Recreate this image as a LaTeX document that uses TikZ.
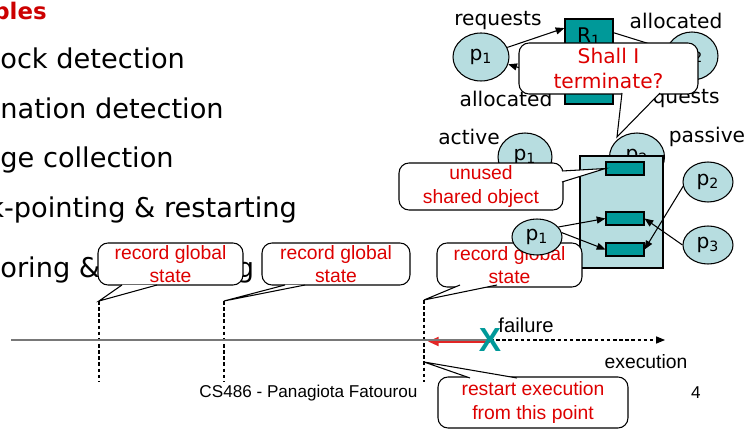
\documentclass[tikz,border=0pt]{standalone}
\usepackage{fontspec}
\setmainfont{DejaVu Sans}
\newfontfamily\arialfont{Liberation Sans}
\usetikzlibrary{shapes.geometric,arrows.meta}
\definecolor{slidered}{RGB}{204,0,0}
\definecolor{calloutred}{RGB}{221,0,0}
\definecolor{resteal}{RGB}{0,153,153}
\definecolor{heapblue}{RGB}{183,221,224}
\definecolor{timegray}{RGB}{120,120,120}

\begin{document}
\begin{tikzpicture}[x=0.02cm,y=-0.02cm]
	\tikzset{
		arc lines/.style={line width=0.6pt, black, -{Triangle[length=5pt,width=4pt]}},
		proc/.style={ellipse, draw, line width=0.6pt, fill=heapblue, inner sep=0pt,
				font=\fontsize{11.5}{13}\selectfont},
		res/.style={draw, line width=0.6pt, fill=resteal, inner sep=0pt},
		bubble/.style={draw, line width=0.6pt, fill=white, rounded corners=0.2cm,
				align=center, text=calloutred, inner sep=0pt},
		tail/.style={draw, line width=0.6pt, fill=white, line join=miter},
		item/.style={anchor=base west, inner sep=0pt, font=\fontsize{15.5}{18}\selectfont},
		arial/.style={font=\arialfont\fontsize{11}{13.4}\selectfont},
		lbl/.style={font=\fontsize{11.5}{13}\selectfont},
		guide/.style={line width=0.6pt, dash pattern=on 2pt off 1.5pt},
	}
	\useasboundingbox (0,0) rectangle (745,429);
	\clip (0,0) rectangle (745,429);

	% slide text, cut at the left edge
	\node[item, font=\bfseries\fontsize{13}{15}\selectfont, text=slidered] (title) at (-7,20) {ples};
	\node[item] (dead) at (0,69) {ock detection};
	\node[item] (term) at (0,119) {nation detection};
	\node[item] (garb) at (0,168) {ge collection};
	\node[item] (chkp) at (-12,218) {k-pointing \& restarting};
	\node[item] (moni) at (0,278) {oring \& debugging};

	% deadlock
	\node[res, minimum width=0.96cm, minimum height=0.72cm, font=\fontsize{11.5}{13}\selectfont] (R1) at (589,37) {R\textsubscript{1}};
	\node[res, minimum width=0.96cm, minimum height=0.72cm, font=\fontsize{11.5}{13}\selectfont] (R2) at (589,86) {R\textsubscript{2}};
	\node[proc, minimum width=1.12cm, minimum height=0.96cm] (p1) at (481,57) {p\textsubscript{1}};
	\node[proc, minimum width=1.04cm, minimum height=0.96cm] (p2) at (692,56) {p\textsubscript{2}};
	\draw[arc lines] (p1.20) -- (R1.160);
	\draw[arc lines] (R2.170) -- (p1.-15);
	\draw[arc lines] (R1.10) -- (p2.165);
	\draw[arc lines] (p2.-165) -- (R2.10);
	\node[lbl] (req1) at (498,21) {requests};
	\node[lbl] (alo1) at (676,21) {allocated};
	\node[lbl] (alo2) at (506,99) {allocated};
	\node[lbl] (req2) at (676,99) {requests};

	% garbage collection
	\node[proc, minimum width=1.08cm, minimum height=0.96cm] (act) at (525,157) {p\textsubscript{1}};
	\node[proc, minimum width=1.1cm, minimum height=0.96cm] (pas) at (637,157) {p\textsubscript{2}};
	\node[lbl] (actl) at (469,137) {active};
	\node[lbl] (pasl) at (707,137) {passive};
	\node[draw, line width=0.6pt, fill=heapblue, minimum width=1.66cm, minimum height=2.24cm] (heap) at (621.5,212) {};
	\node[res, minimum width=0.76cm, minimum height=0.26cm] (o1) at (625,168.5) {};
	\node[res, minimum width=0.76cm, minimum height=0.26cm] (o2) at (625,218.5) {};
	\node[res, minimum width=0.76cm, minimum height=0.26cm] (o3) at (625,249.5) {};

	\node[bubble, font=\fontsize{11.5}{14.2}\selectfont, minimum width=3.58cm, minimum height=1.02cm] (ask) at (608.5,68.5) {Shall I\\terminate?};
	\coordinate (askTip) at (617,137);
	\filldraw[tail] (622,93) -- (askTip) -- (660,93);

	\node[bubble, arial, minimum width=3.28cm, minimum height=0.94cm] (unused) at (481,186.5) {unused\\shared object};
	\filldraw[tail] (562,171) -- (o1.west) -- (562,182);

	\node[bubble, arial, minimum width=2.9cm, minimum height=0.88cm] (recC) at (509.5,265) {record global\\state};
	\coordinate (tipC) at (424,300);
	\filldraw[tail] (460,285) -- (tipC) -- (497,285);

	\node[proc, minimum width=1.0cm, minimum height=0.72cm] (q1) at (537,237) {p\textsubscript{1}};
	\node[proc, minimum width=1.0cm, minimum height=0.8cm] (q2) at (708,182) {p\textsubscript{2}};
	\node[proc, minimum width=1.0cm, minimum height=0.76cm] (q3) at (708,245) {p\textsubscript{3}};
	\draw[arc lines] (q1.25) -- (o2.west);
	\draw[arc lines] (q1.10) -- (o3.west);
	\draw[arc lines] (q2.190) -- (o3.east);
	\draw[arc lines] (q3.180) -- (o2.east);

	% checkpoints on the time line
	\node[bubble, arial, minimum width=2.9cm, minimum height=0.84cm] (recA) at (170.5,264) {record global\\state};
	\coordinate (tipA) at (99,301);
	\filldraw[tail] (122,285) -- (tipA) -- (157,285);
	\node[bubble, arial, minimum width=2.96cm, minimum height=0.84cm] (recB) at (336,264) {record global\\state};
	\coordinate (tipB) at (224,301);
	\filldraw[tail] (285,285) -- (tipB) -- (305,285);

	\coordinate (botA) at (99,382);
	\coordinate (botB) at (224,382);
	\coordinate (botC) at (424,382);
	\draw[guide] (tipA) -- (botA);
	\draw[guide] (tipB) -- (botB);
	\draw[guide] (tipC) -- (botC);

	\coordinate (tStart) at (11,340);
	\coordinate (failPt) at (490,340);
	\coordinate (failLow) at (490,341.5);
	\coordinate (tBack) at (428,341.5);
	\coordinate (tEnd) at (665,340);
	\draw[calloutred!85, line width=1.3pt, -{Triangle[length=6pt,width=5pt]}] (failLow) -- (tBack);
	\draw[timegray, line width=0.8pt] (tStart) -- (failPt);
	\draw[guide, -{Triangle[length=5pt,width=4pt]}] (failPt) -- (tEnd);
	\node[text=resteal, font=\arialfont\bfseries\fontsize{19}{19}\selectfont, inner sep=0pt] (fail) at (failPt) {X};
	\node[arial, font=\arialfont\fontsize{11.5}{13}\selectfont] (failure) at (526,325) {failure};
	\node[arial] (exec) at (646,362) {execution};

	\node[bubble, arial, minimum width=3.8cm, minimum height=1.02cm] (restart) at (533,402.5) {restart execution\\from this point};
	\coordinate (tipR) at (424,362);
	\filldraw[tail] (470,378) -- (tipR) -- (517,378);

	\node[font=\arialfont\fontsize{9.75}{11}\selectfont] (foot) at (308.5,393) {CS486 - Panagiota Fatourou};
	\node[font=\arialfont\fontsize{9.75}{11}\selectfont] (page) at (696,393) {4};
\end{tikzpicture}
\end{document}
